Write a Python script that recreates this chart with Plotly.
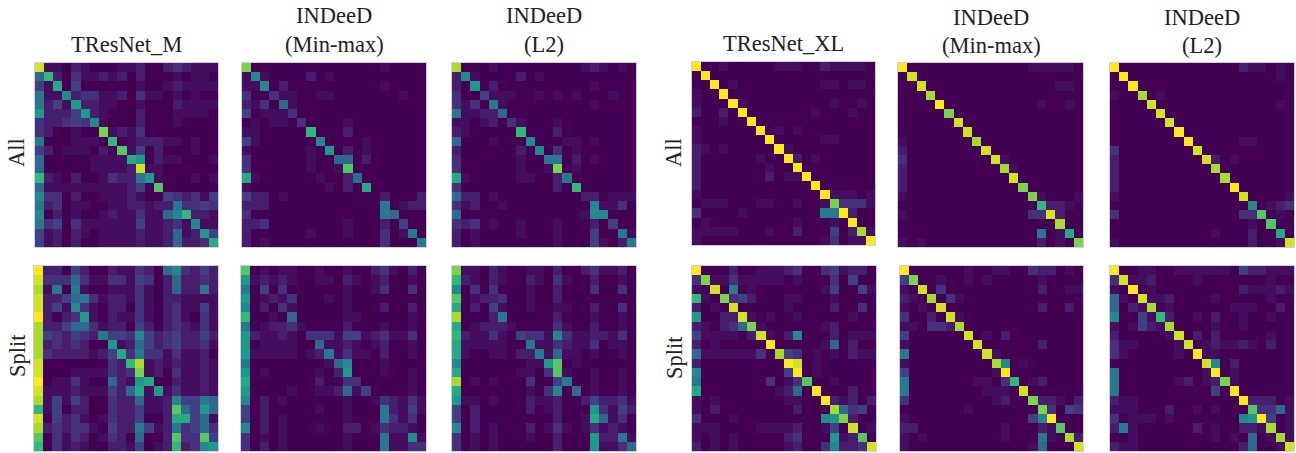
import plotly.graph_objects as go

W, H = 1296, 453

# cell levels, one hex digit per cell (0 lowest, f highest)
resnet_m_all = [
 "e1102100011200232111","5a203112120200010110","41904000000100121111","61172331120311010100",
 "62418221100100021111","82224821000200011110","32234371000200010000","3200100c121300000000",
 "60001110a01222110100","420111020b1402000100","50000011119802110001","50000011112e11000000",
 "a2102001322681000101","5111111111240b000000","73302001112100432314","62301100112212263343",
 "7020100121131157a221","63403111111411231711","41202101111211251284","41202001111211252239"]
indeed_mm_all = [
 "c0000000000000010000","17100002010000000000","11702000000000010000","30031100110000000100",
 "21305100000000000000","40111300000000000000","01011030000100000000","1100000a000200000000",
 "41000000700001000000","10000001080201000000","30000001005502000000","30000001001b00000000",
 "91000000100250000000","10000000010209000000","42201000000000020002","22200000000000060122",
 "30000000000000065000","22300000000100020400","20000001000100030160","20100000000000030006"]
indeed_l2_all = [
 "d0001000000000121010","27100002010000000000","20802000000000010000","30041110010101000100",
 "31306100000000010000","61122500000000000000","11012031000100000000","2100000a000200000000",
 "50001000700011010000","20000002070301000000","30000001006602010000","30000001001c01000000",
 "91000001100260000000","3000000000020a000000","52201000000000220111","31200100000000071130",
 "50000000000000177000","32301001000100020400","20100001000100040061","20100000000100041026"]
resnet_m_split = [
 "f2204200211320573242","e3335311331430252232","d1606100111310252262","e2245631221310221111",
 "e2417310220310231141","f2023810211310231031","d2245531220420232131","d4324326443742342242",
 "d2323200812542342231","d3222212493633131120","e00000003 2ad12121121","e000111132 3c12031121",
 "f0113100521890021121","e1112111425918131121","d1414200322511274465","a14022003224112b5485",
 "e0423101322400299451","d2323310422641263453","b03132013205002b33b4","a03121002214012a2378"]
indeed_mm_split = [
 "b0101100100100231020","81212100110210120010","60403000000100130030","80121300010100000000",
 "70203100000100020020","a0010500000110000010","60122310000200010010","82112103331441231130",
 "80111100511210120010","81111101261311020010","60000000015700010000","80100000102800010010",
 "90000000200330000010","80000100112514000010","70201000000100132131","40200000100100062141",
 "40201000000100063130","70201000100220132210","30101000000100061171","30201000000100061133"]
indeed_l2_split = [
 "c1102100110200231120","a2102100210310020010","70303000100200030030","b0122300100200000000",
 "90204100100110020030","d0002600000200010010","90122210000310020010","a2113104331731122130",
 "91111100611321130110","91001102261511010010","70000000118b01000000","90000001103b10010010",
 "d0101000300460010010","90000000103705010010","81101000211200242231","40200000201200083142",
 "40200000000200195130","70201000201310131210","30101000100200082261","30101000000200081135"]

resnet_xl_all = [
 "f0010000011100211110","0f000000000000000000","00f01000000000110110","100f0000000000000000",
 "1000f100000000010010","20020f00000001000100","000100f0000000000000","1000000f010100000000",
 "10000000f00000110000","210100000f1000000000","2000000100f201000000","20000000100f00000000",
 "200000002011f0000000","2000000000000f000000","10000000000000f11101","011100011001001c3331",
 "3000010000000066f200","01000000000100010f00","11111000100200040 2d1","1000000000000013011f"]
indeed_mm_xl_all = [
 "f0000000000000111110","0e000000000000000000","00e00000000000000110","000d0000000000000000",
 "0000f000000000010010","00000c00000000000000","000000e0000000000000","0000000e000000000000",
 "10000000d00000000000","200000000e0000000000","3000000000e100000000","20000000000d10000000",
 "200000000000e0000000","2000000000000c000000","10000000000000c10001","000000000000000a2210",
 "1000000000000033e200","00000000000000000d00","00000000000000060190","1010000000000002010c"]
indeed_l2_xl_all = [
 "f0000000000000211010","0f000000000000000010","00f00000000000000000","100d0100000000000000",
 "0000e000000000000010","00000e00000000000000","000000e0000000000000","0000000f000000000000",
 "00000000f00000110000","300000000e0000000000","2000000000e201000000","20000000000d00000000",
 "200000000000d0000000","2000000000000f000000","10000000000000e00001","00000000000000070123",
 "3000000000000033b010","00000000000000010b00","00000000000100020090","1000000000000002001e"]
resnet_xl_split = [
 "f0002001112300341220","3c113111110100030400","10e06010000000140041","a10c3420001100010000",
 "2010e000001000020030","80022e10100100000100","210235c1000000120000","4111102e102700020111",
 "20100000f00000150200","511111130d4301010211","2000000000fe01000000","70000000004f01000000",
 "600000003013b0010000","9000000001250f000200","10100000001100f21202","102000000002000d5340",
 "3000100000000078c200","11100001111200140e01","10101000002300081 2b0","2010100000120037223e"]
indeed_mm_xl_split = [
 "f0000001001100322010","4c001001010000010000","10e03000000000020011","210d0310000000000000",
 "1010e000000000020020","30020e10000000000000","110332d0000000000000","4000000e010200000000",
 "10000000e00000020000","600000000e1000000000","1000000000d701000000","40000000001f00000000",
 "600000001103a0120000","6000000001110e000000","30000000001200c22102","000000010000000c3043",
 "1000000000000047f000","22000000000100021b00","101000000001000610d2","1000000000000015000e"]
indeed_l2_xl_split = [
 "f0011001111110422111","3e112000010000000100","10f01000000000211121","510e1120000100000100",
 "5021d010000001110020","70041a20010200100100","101421d0000100100000","2000001e020200000100",
 "31100001e01211210200","310000010f1100000000","0000000000e702000000","60000000001f01000000",
 "600000012012c1000000","6000000000040f000000","21100000000000f22201","111000200101000b3351",
 "3011101000000078f401","26100000020100221d01","00100000000101050 1d1","2110000000000025001e"]

panels = [
 (resnet_m_all, 34.5, 218, 63, 247), (indeed_mm_all, 241.5, 426, 63, 247), (indeed_l2_all, 452, 636, 63, 247),
 (resnet_m_split, 34, 218, 266, 451), (indeed_mm_split, 241, 426, 266, 451), (indeed_l2_split, 452, 636, 266, 451),
 (resnet_xl_all, 691.5, 875, 62, 245), (indeed_mm_xl_all, 898, 1083, 63, 247), (indeed_l2_xl_all, 1110, 1294, 63, 247),
 (resnet_xl_split, 692, 876, 266, 451), (indeed_mm_xl_split, 899.5, 1083, 266, 451), (indeed_l2_xl_split, 1110, 1294, 266, 451),
]

titles = [
 ("TResNet_M", 126, 44), ("INDeeD", 334, 16), ("(Min-max)", 334, 44), ("INDeeD", 544, 16), ("(L2)", 544, 44),
 ("TResNet_XL", 783, 43), ("INDeeD", 991, 18), ("(Min-max)", 991, 46), ("INDeeD", 1202, 18), ("(L2)", 1202, 46),
]
row_labels = [("All", 17, 153), ("Split", 17, 356), ("All", 674, 153), ("Split", 674, 358)]


def level(c):
    v = int(c, 16)
    return (v / 15) ** 1.25 if v <= 4 else v / 15


def decode(rows):
    out = []
    for r in rows:
        cells = [level(c) for c in r.replace(" ", "")]
        out.append((cells + [0] * 20)[:20])
    return out


fig = go.Figure()
layout = {}
for i, (rows, x0, x1, y0, y1) in enumerate(panels, start=1):
    suffix = "" if i == 1 else str(i)
    fig.add_trace(go.Heatmap(z=decode(rows), colorscale="Viridis", zmin=0, zmax=1, showscale=False,
                             xaxis="x" + suffix, yaxis="y" + suffix, hoverinfo="skip"))
    common = dict(showticklabels=False, ticks="", showgrid=False, zeroline=False,
                  showline=True, mirror=True, linecolor="#d2cee0", linewidth=1)
    layout["xaxis" + suffix] = dict(domain=[x0 / W, x1 / W], anchor="y" + suffix, range=[-0.5, 19.5], **common)
    layout["yaxis" + suffix] = dict(domain=[1 - y1 / H, 1 - y0 / H], anchor="x" + suffix, range=[19.5, -0.5], **common)

ann = []
for t, x, y in titles:
    ann.append(dict(text=t, x=x / W, y=1 - y / H, xref="paper", yref="paper", showarrow=False,
                    xanchor="center", yanchor="middle", font=dict(family="Liberation Serif", size=22.5, color="#222")))
for t, x, y in row_labels:
    ann.append(dict(text=t, x=x / W, y=1 - y / H, xref="paper", yref="paper", showarrow=False, textangle=-90,
                    xanchor="center", yanchor="middle", font=dict(family="Liberation Serif", size=22.5, color="#222")))

fig.update_layout(width=W, height=H, margin=dict(l=0, r=0, t=0, b=0), paper_bgcolor="white",
                  plot_bgcolor="white", annotations=ann, **layout)
fig.write_html("out.html", config={"displayModeBar": False},
               post_script="document.body.style.margin='0';document.body.style.overflow='hidden';")
